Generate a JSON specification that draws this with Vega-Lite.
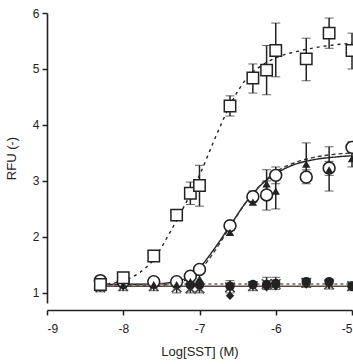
{
  "$schema": "https://vega.github.io/schema/vega-lite/v6.json",
  "autosize": {"type": "none"},
  "padding": {"left": 47, "top": 13, "right": 1, "bottom": 61},
  "width": 305,
  "height": 290,
  "background": "white",
  "config": {
    "view": {"stroke": null},
    "font": "Liberation Sans",
    "axis": {"domainColor": "#222", "domainWidth": 1.6, "tickColor": "#222", "tickWidth": 1.5, "tickSize": 5, "labelColor": "#222", "labelFontSize": 12, "titleColor": "#222", "titleFontSize": 13, "titleFontWeight": "normal", "grid": false, "labelFont": "Liberation Sans", "titleFont": "Liberation Sans"}
  },
  "datasets": {
    "pts": [
      {"s": "A", "x": -8.3, "y": 1.15},
      {"s": "A", "x": -8.0, "y": 1.27, "lo": 1.22, "hi": 1.32},
      {"s": "A", "x": -7.6, "y": 1.66},
      {"s": "A", "x": -7.3, "y": 2.39},
      {"s": "A", "x": -7.12, "y": 2.78, "lo": 2.58, "hi": 2.98},
      {"s": "A", "x": -7.0, "y": 2.92, "lo": 2.55, "hi": 3.28},
      {"s": "A", "x": -6.6, "y": 4.34, "lo": 4.16, "hi": 4.52},
      {"s": "A", "x": -6.3, "y": 4.84, "lo": 4.57, "hi": 5.09},
      {"s": "A", "x": -6.12, "y": 4.98, "lo": 4.54, "hi": 5.42},
      {"s": "A", "x": -6.0, "y": 5.33, "lo": 4.86, "hi": 5.82},
      {"s": "A", "x": -5.6, "y": 5.18, "lo": 4.79, "hi": 5.55},
      {"s": "A", "x": -5.3, "y": 5.64, "lo": 5.37, "hi": 5.91},
      {"s": "A", "x": -5.0, "y": 5.33, "lo": 5.0, "hi": 5.64},
      {"s": "B", "x": -8.3, "y": 1.22, "lo": 1.17, "hi": 1.27},
      {"s": "B", "x": -8.0, "y": 1.2},
      {"s": "B", "x": -7.6, "y": 1.2},
      {"s": "B", "x": -7.3, "y": 1.2},
      {"s": "B", "x": -7.12, "y": 1.3},
      {"s": "B", "x": -7.0, "y": 1.42},
      {"s": "B", "x": -6.6, "y": 2.2, "lo": 2.12, "hi": 2.28},
      {"s": "B", "x": -6.3, "y": 2.72, "lo": 2.62, "hi": 2.82},
      {"s": "B", "x": -6.12, "y": 2.75, "lo": 2.48, "hi": 3.0},
      {"s": "B", "x": -6.0, "y": 3.1, "lo": 2.95, "hi": 3.25},
      {"s": "B", "x": -5.6, "y": 3.07, "lo": 2.95, "hi": 3.2},
      {"s": "B", "x": -5.3, "y": 3.23, "lo": 3.1, "hi": 3.35},
      {"s": "B", "x": -5.0, "y": 3.6, "lo": 3.5, "hi": 3.7},
      {"s": "C", "x": -8.3, "y": 1.12},
      {"s": "C", "x": -8.0, "y": 1.15},
      {"s": "C", "x": -7.6, "y": 1.15},
      {"s": "C", "x": -7.3, "y": 1.15},
      {"s": "C", "x": -7.12, "y": 1.2},
      {"s": "C", "x": -7.0, "y": 1.25},
      {"s": "C", "x": -6.6, "y": 2.08},
      {"s": "C", "x": -6.3, "y": 2.62},
      {"s": "C", "x": -6.12, "y": 2.95, "lo": 2.75, "hi": 3.2},
      {"s": "C", "x": -6.0, "y": 2.82, "lo": 2.5, "hi": 3.15},
      {"s": "C", "x": -5.6, "y": 3.3, "lo": 3.1, "hi": 3.68},
      {"s": "C", "x": -5.3, "y": 3.2, "lo": 2.82, "hi": 3.61},
      {"s": "C", "x": -5.0, "y": 3.4, "lo": 3.25, "hi": 3.55},
      {"s": "D", "x": -8.3, "y": 1.15},
      {"s": "D", "x": -8.0, "y": 1.18},
      {"s": "D", "x": -7.6, "y": 1.18},
      {"s": "D", "x": -7.3, "y": 1.17},
      {"s": "D", "x": -7.12, "y": 1.15},
      {"s": "D", "x": -7.0, "y": 1.15},
      {"s": "D", "x": -6.6, "y": 1.12},
      {"s": "D", "x": -6.3, "y": 1.15},
      {"s": "D", "x": -6.12, "y": 1.15},
      {"s": "D", "x": -6.0, "y": 1.17},
      {"s": "D", "x": -5.6, "y": 1.2},
      {"s": "D", "x": -5.3, "y": 1.2},
      {"s": "D", "x": -5.0, "y": 1.12},
      {"s": "E", "x": -8.3, "y": 1.1, "lo": 1.02, "hi": 1.18},
      {"s": "E", "x": -8.0, "y": 1.12, "lo": 1.04, "hi": 1.2},
      {"s": "E", "x": -7.6, "y": 1.12, "lo": 1.04, "hi": 1.2},
      {"s": "E", "x": -7.3, "y": 1.1, "lo": 1.0, "hi": 1.2},
      {"s": "E", "x": -7.12, "y": 1.08, "lo": 1.0, "hi": 1.16},
      {"s": "E", "x": -7.0, "y": 1.08, "lo": 1.0, "hi": 1.16},
      {"s": "E", "x": -6.6, "y": 1.1, "lo": 1.0, "hi": 1.22},
      {"s": "E", "x": -6.3, "y": 1.12, "lo": 1.04, "hi": 1.2},
      {"s": "E", "x": -6.12, "y": 1.16, "lo": 1.06, "hi": 1.28},
      {"s": "E", "x": -6.0, "y": 1.16, "lo": 1.06, "hi": 1.28},
      {"s": "E", "x": -5.6, "y": 1.18, "lo": 1.1, "hi": 1.26},
      {"s": "E", "x": -5.3, "y": 1.15, "lo": 1.07, "hi": 1.24},
      {"s": "E", "x": -5.0, "y": 1.12, "lo": 1.04, "hi": 1.2},
      {"s": "F", "x": -8.3, "y": 1.1},
      {"s": "F", "x": -8.0, "y": 1.12},
      {"s": "F", "x": -7.6, "y": 1.13},
      {"s": "F", "x": -7.3, "y": 1.12},
      {"s": "F", "x": -7.12, "y": 1.1},
      {"s": "F", "x": -7.0, "y": 1.1},
      {"s": "F", "x": -6.6, "y": 0.95},
      {"s": "F", "x": -6.3, "y": 1.13},
      {"s": "F", "x": -6.12, "y": 1.1},
      {"s": "F", "x": -6.0, "y": 1.12},
      {"s": "F", "x": -5.6, "y": 1.15},
      {"s": "F", "x": -5.3, "y": 1.15},
      {"s": "F", "x": -5.0, "y": 1.1}
    ],
    "curves": [
      {"c": "A", "x": -8.3, "y": 1.15}, {"c": "A", "x": -8.0, "y": 1.22}, {"c": "A", "x": -7.8, "y": 1.35}, {"c": "A", "x": -7.6, "y": 1.6}, {"c": "A", "x": -7.4, "y": 2.05}, {"c": "A", "x": -7.2, "y": 2.55}, {"c": "A", "x": -7.0, "y": 3.1}, {"c": "A", "x": -6.8, "y": 3.75}, {"c": "A", "x": -6.6, "y": 4.35}, {"c": "A", "x": -6.4, "y": 4.8}, {"c": "A", "x": -6.2, "y": 5.05}, {"c": "A", "x": -6.0, "y": 5.2}, {"c": "A", "x": -5.7, "y": 5.32}, {"c": "A", "x": -5.4, "y": 5.4}, {"c": "A", "x": -5.0, "y": 5.46},
      {"c": "B", "x": -8.3, "y": 1.15}, {"c": "B", "x": -7.6, "y": 1.16}, {"c": "B", "x": -7.2, "y": 1.25}, {"c": "B", "x": -7.0, "y": 1.45}, {"c": "B", "x": -6.8, "y": 1.8}, {"c": "B", "x": -6.6, "y": 2.2}, {"c": "B", "x": -6.4, "y": 2.6}, {"c": "B", "x": -6.2, "y": 2.92}, {"c": "B", "x": -6.0, "y": 3.13}, {"c": "B", "x": -5.8, "y": 3.27}, {"c": "B", "x": -5.5, "y": 3.38}, {"c": "B", "x": -5.2, "y": 3.43}, {"c": "B", "x": -5.0, "y": 3.45},
      {"c": "C", "x": -8.3, "y": 1.12}, {"c": "C", "x": -7.6, "y": 1.13}, {"c": "C", "x": -7.2, "y": 1.22}, {"c": "C", "x": -7.0, "y": 1.4}, {"c": "C", "x": -6.8, "y": 1.75}, {"c": "C", "x": -6.6, "y": 2.18}, {"c": "C", "x": -6.4, "y": 2.6}, {"c": "C", "x": -6.2, "y": 2.93}, {"c": "C", "x": -6.0, "y": 3.16}, {"c": "C", "x": -5.8, "y": 3.3}, {"c": "C", "x": -5.5, "y": 3.42}, {"c": "C", "x": -5.2, "y": 3.48}, {"c": "C", "x": -5.0, "y": 3.5},
      {"c": "D", "x": -8.3, "y": 1.12}, {"c": "D", "x": -5.0, "y": 1.12},
      {"c": "E", "x": -8.3, "y": 1.16}, {"c": "E", "x": -5.0, "y": 1.16}
    ]
  },
  "layer": [
    {
      "data": {"name": "curves"},
      "mark": {"type": "line", "interpolate": "monotone", "strokeWidth": 1.4, "clip": false},
      "encoding": {
        "x": {"field": "x", "type": "quantitative", "title": "Log[SST] (M)", "scale": {"domain": [-9, -5], "nice": false, "zero": false},
          "axis": {"values": [-9, -8, -7, -6, -5], "offset": 7, "labelPadding": 8, "titlePadding": 11, "labelExpr": "'' + datum.value"}},
        "y": {"field": "y", "type": "quantitative", "title": "RFU (-)", "scale": {"domain": [0.82, 6], "nice": false, "zero": false},
          "axis": {"values": [1, 2, 3, 4, 5, 6], "labelPadding": 3, "titlePadding": 14, "labelExpr": "'' + datum.value"}},
        "detail": {"field": "c"},
        "color": {"field": "c", "type": "nominal", "legend": null, "scale": {"domain": ["A", "B", "C", "D", "E"], "range": ["#222", "#222", "#333", "#5a4a44", "#666"]}},
        "strokeDash": {"field": "c", "type": "nominal", "legend": null, "scale": {"domain": ["A", "B", "C", "D", "E"], "range": [[3, 4], [1, 0], [4, 3], [1, 0], [3, 3]]}}
      }
    },
    {
      "data": {"name": "pts"},
      "transform": [{"filter": "isValid(datum.lo)"}],
      "mark": {"type": "errorbar", "ticks": {"size": 9, "strokeWidth": 1.5, "color": "#222"}, "rule": {"strokeWidth": 1.5, "color": "#222"}},
      "encoding": {
        "x": {"field": "x", "type": "quantitative", "title": "Log[SST] (M)"},
        "y": {"field": "lo", "type": "quantitative", "title": "RFU (-)"},
        "y2": {"field": "hi"}
      }
    },
    {
      "data": {"name": "pts"},
      "transform": [{"filter": "datum.s == 'F'"}],
      "mark": {"type": "point", "shape": "diamond", "filled": true, "color": "#222", "size": 70, "opacity": 1},
      "encoding": {"x": {"field": "x", "type": "quantitative", "title": "Log[SST] (M)"}, "y": {"field": "y", "type": "quantitative", "title": "RFU (-)"}}
    },
    {
      "data": {"name": "pts"},
      "transform": [{"filter": "datum.s == 'E'"}],
      "mark": {"type": "point", "shape": "M-1,-1L1,1M-1,1L1,-1", "filled": false, "stroke": "#444", "strokeWidth": 1.6, "size": 90, "opacity": 1},
      "encoding": {"x": {"field": "x", "type": "quantitative", "title": "Log[SST] (M)"}, "y": {"field": "y", "type": "quantitative", "title": "RFU (-)"}}
    },
    {
      "data": {"name": "pts"},
      "transform": [{"filter": "datum.s == 'D'"}],
      "mark": {"type": "point", "shape": "circle", "filled": true, "color": "#222", "size": 90, "opacity": 1},
      "encoding": {"x": {"field": "x", "type": "quantitative", "title": "Log[SST] (M)"}, "y": {"field": "y", "type": "quantitative", "title": "RFU (-)"}}
    },
    {
      "data": {"name": "pts"},
      "transform": [{"filter": "datum.s == 'B'"}],
      "mark": {"type": "point", "shape": "circle", "filled": false, "fill": "white", "fillOpacity": 1, "stroke": "#222", "strokeWidth": 1.6, "size": 140, "opacity": 1},
      "encoding": {"x": {"field": "x", "type": "quantitative", "title": "Log[SST] (M)"}, "y": {"field": "y", "type": "quantitative", "title": "RFU (-)"}}
    },
    {
      "data": {"name": "pts"},
      "transform": [{"filter": "datum.s == 'C'"}],
      "mark": {"type": "point", "shape": "triangle-up", "filled": true, "color": "#222", "size": 70, "opacity": 1},
      "encoding": {"x": {"field": "x", "type": "quantitative", "title": "Log[SST] (M)"}, "y": {"field": "y", "type": "quantitative", "title": "RFU (-)"}}
    },
    {
      "data": {"name": "pts"},
      "transform": [{"filter": "datum.s == 'A'"}],
      "mark": {"type": "point", "shape": "square", "filled": false, "fill": "white", "fillOpacity": 1, "stroke": "#222", "strokeWidth": 1.5, "size": 130, "opacity": 1},
      "encoding": {"x": {"field": "x", "type": "quantitative", "title": "Log[SST] (M)"}, "y": {"field": "y", "type": "quantitative", "title": "RFU (-)"}}
    }
  ]
}
